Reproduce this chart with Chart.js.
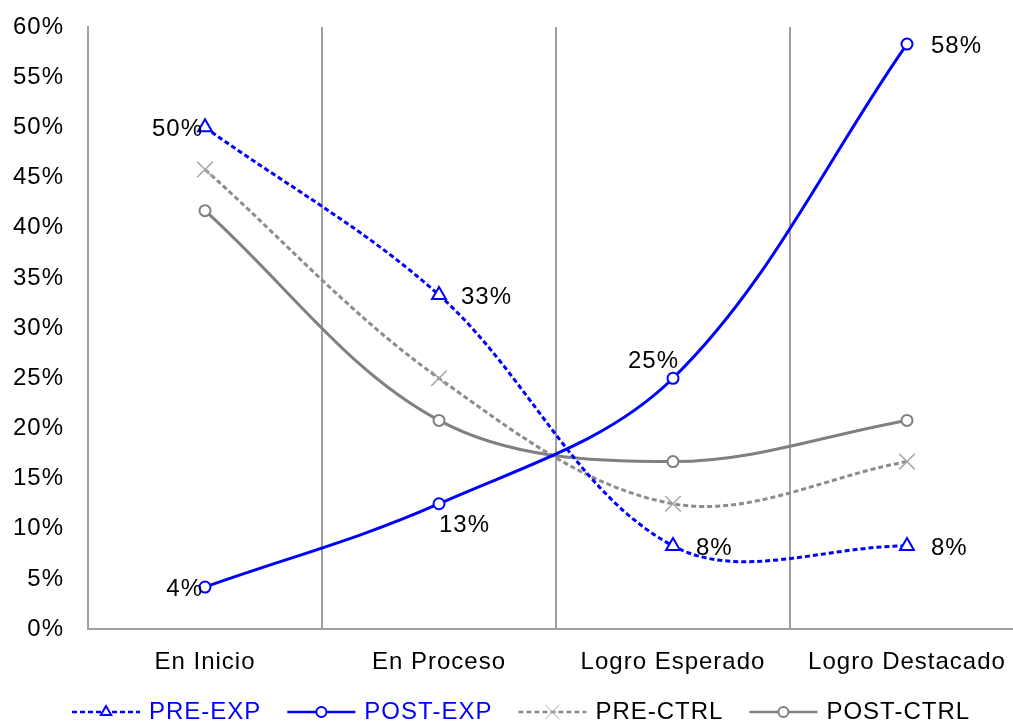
<!DOCTYPE html>
<html>
<head>
<meta charset="utf-8">
<script src="https://cdn.jsdelivr.net/npm/chart.js@4"></script>
<style>
  html, body { margin: 0; padding: 0; background: #fff; overflow: hidden; }
  canvas { display: block; }
</style>
</head>
<body>
<canvas id="chart" width="1040" height="725"></canvas>
<script>
// achievement levels and percentage of students per group
const categories = ['En Inicio', 'En Proceso', 'Logro Esperado', 'Logro Destacado'];
const preExp = [50.0, 33.3, 8.3, 8.3];
const postExp = [4.2, 12.5, 25.0, 58.3];
const preCtrl = [45.8, 25.0, 12.5, 16.7];
const postCtrl = [41.7, 20.8, 16.7, 20.8];
const yTicks = [0, 5, 10, 15, 20, 25, 30, 35, 40, 45, 50, 55, 60];

const BLUE = '#0000ff';
const GRAY = '#808080';
const DASH_GRAY = '#8c8c8c';
const AXIS_GRAY = '#a0a0a0';
const FONT = 'Liberation Sans, Arial, sans-serif';
const FONT_SIZE = 24;
const LETTER_SPACING = '1px';
const Y_AXIS_WIDTH = 76;

// where each value label sits relative to its point: [dx, dy, textAlign]
const preExpLabelPos = [[-2, 2, 'right'], [22, 2, 'left'], [23, 2, 'left'], [24, 2, 'left']];
const postExpLabelPos = [[-2, 2, 'right'], [0, 22, 'left'], [-45, -17, 'left'], [24, 2, 'left']];

// slightly wider lettering for every text on the canvas
const spacing = {
  id: 'spacing',
  beforeUpdate(chart) { chart.ctx.letterSpacing = LETTER_SPACING; },
  beforeDraw(chart) { chart.ctx.letterSpacing = LETTER_SPACING; }
};

const valueLabels = {
  id: 'valueLabels',
  afterDatasetsDraw(chart) {
    const ctx = chart.ctx;
    ctx.save();
    ctx.font = `${FONT_SIZE}px ${FONT}`;
    ctx.fillStyle = '#000';
    ctx.textBaseline = 'middle';
    chart.data.datasets.forEach((ds, i) => {
      if (!ds.labelPos) return;
      chart.getDatasetMeta(i).data.forEach((pt, j) => {
        const [dx, dy, align] = ds.labelPos[j];
        ctx.textAlign = align;
        ctx.fillText(Math.round(ds.data[j]) + '%', pt.x + dx, pt.y + dy);
      });
    });
    ctx.restore();
  }
};

// legend along the bottom: line sample with its marker, then the series name
const bottomLegend = {
  id: 'bottomLegend',
  afterDraw(chart) {
    const ctx = chart.ctx;
    const y = 712;
    const sampleLen = 68;
    let x = 72;
    ctx.save();
    ctx.font = `${FONT_SIZE}px ${FONT}`;
    ctx.textBaseline = 'middle';
    chart.data.datasets.forEach((ds) => {
      ctx.strokeStyle = ds.borderColor;
      ctx.lineWidth = 2.5;
      ctx.setLineDash(ds.borderDash || []);
      ctx.beginPath();
      ctx.moveTo(x, y);
      ctx.lineTo(x + sampleLen, y);
      ctx.stroke();
      ctx.setLineDash([]);
      ctx.fillStyle = '#fff';
      ctx.strokeStyle = ds.pointBorderColor;
      ctx.lineWidth = ds.legendPointWidth;
      Chart.helpers.drawPoint(ctx, {
        pointStyle: ds.pointStyle,
        radius: ds.legendPointRadius,
        borderWidth: ds.legendPointWidth
      }, x + sampleLen / 2, y);
      ctx.fillStyle = ds.legendTextColor;
      ctx.textAlign = 'left';
      ctx.fillText(ds.label, x + sampleLen + 9, y);
      x += sampleLen + 9 + ctx.measureText(ds.label).width + 26;
    });
    ctx.restore();
  }
};

// drop the extra room Chart.js keeps around edge tick labels, so the plot box is set by layout.padding
const noEdgePadding = (scale) => {
  scale.paddingTop = 0;
  scale.paddingBottom = 0;
  scale.paddingLeft = 0;
  scale.paddingRight = 0;
};

const baseLine = {
  fill: false,
  tension: 0.35,
  borderWidth: 3,
  pointBorderWidth: 2,
  pointBackgroundColor: '#fff',
  legendPointWidth: 2
};

new Chart(document.getElementById('chart'), {
  type: 'line',
  data: {
    labels: categories,
    datasets: [
      Object.assign({}, baseLine, {
        label: 'PRE-EXP', data: preExp, borderColor: BLUE, pointBorderColor: BLUE,
        borderDash: [5, 3], pointStyle: 'triangle', pointRadius: 8,
        legendPointRadius: 6, legendTextColor: BLUE, labelPos: preExpLabelPos
      }),
      Object.assign({}, baseLine, {
        label: 'POST-EXP', data: postExp, borderColor: BLUE, pointBorderColor: BLUE,
        pointStyle: 'circle', pointRadius: 5.5,
        legendPointRadius: 5, legendTextColor: BLUE, labelPos: postExpLabelPos
      }),
      Object.assign({}, baseLine, {
        label: 'PRE-CTRL', data: preCtrl, borderColor: DASH_GRAY, pointBorderColor: '#a6a6a6',
        borderDash: [5, 3], pointStyle: 'crossRot', pointRadius: 11, pointBorderWidth: 1.5,
        legendPointRadius: 10, legendPointWidth: 1, legendTextColor: '#000'
      }),
      Object.assign({}, baseLine, {
        label: 'POST-CTRL', data: postCtrl, borderColor: GRAY, pointBorderColor: GRAY,
        pointStyle: 'circle', pointRadius: 5.5,
        legendPointRadius: 5, legendTextColor: '#000'
      })
    ]
  },
  options: {
    responsive: false,
    animation: false,
    layout: { autoPadding: false, padding: { top: 27, left: 12, right: 16, bottom: 29 } },
    plugins: { legend: { display: false }, tooltip: { enabled: false } },
    scales: {
      x: {
        offset: true,
        afterFit: noEdgePadding,
        grid: { offset: true, color: AXIS_GRAY, lineWidth: 2, drawTicks: false },
        border: { color: AXIS_GRAY, width: 2 },
        ticks: { color: '#000', padding: 19, font: { family: FONT, size: FONT_SIZE } }
      },
      y: {
        min: yTicks[0],
        max: yTicks[yTicks.length - 1],
        afterBuildTicks(axis) { axis.ticks = yTicks.map(v => ({ value: v })); },
        afterFit(scale) {
          noEdgePadding(scale);
          scale.width = Y_AXIS_WIDTH;
        },
        grid: { display: false, drawTicks: false },
        border: { color: AXIS_GRAY, width: 2 },
        ticks: {
          color: '#000', padding: 24, font: { family: FONT, size: FONT_SIZE },
          callback: v => v + '%'
        }
      }
    }
  },
  plugins: [spacing, valueLabels, bottomLegend]
});
</script>
</body>
</html>
